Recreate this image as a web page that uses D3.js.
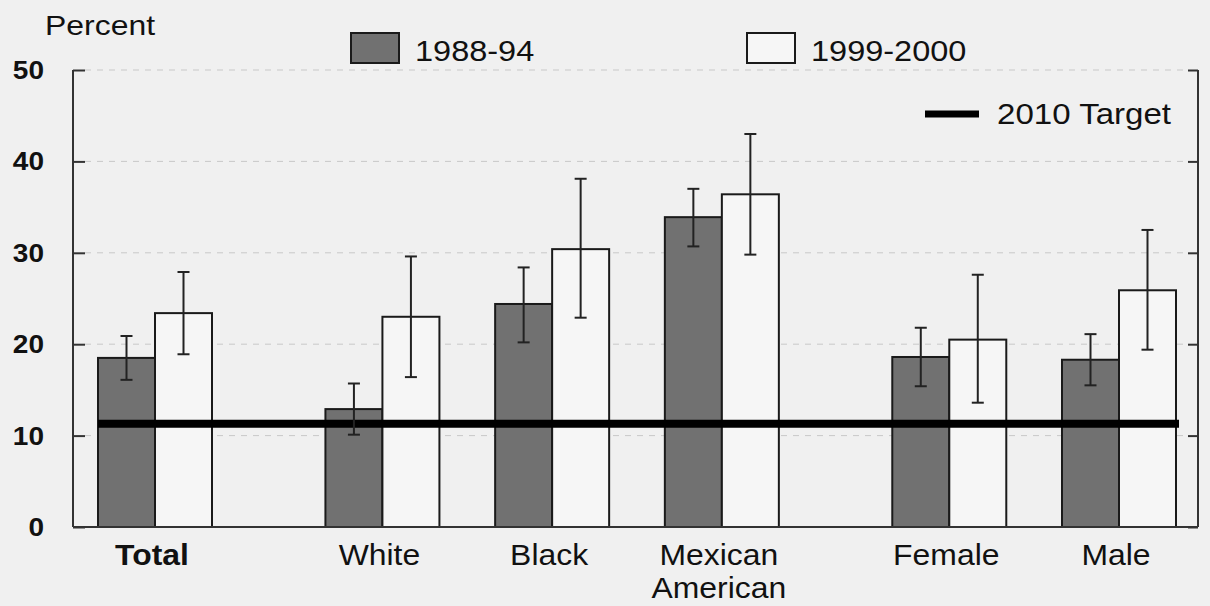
<!DOCTYPE html>
<html>
<head>
<meta charset="utf-8">
<script src="https://cdn.jsdelivr.net/npm/d3@7"></script>
<style>
html,body{margin:0;padding:0;background:#f0f0f0;}
svg{display:block;font-family:"Liberation Sans",Arial,sans-serif;}
</style>
</head>
<body>
<svg id="chart" width="1210" height="606"></svg>
<script>
const categories = ["Total","White","Black","Mexican American","Female","Male"];
const boldCategory = ["Total"];
const seriesNames = ["1988-94","1999-2000"];
const values8894 = [18.5, 12.9, 24.4, 33.9, 18.6, 18.3];
const upper8894  = [20.9, 15.7, 28.4, 37.0, 21.8, 21.1];
const lower8894  = [16.1, 10.1, 20.2, 30.7, 15.4, 15.5];
const values9900 = [23.4, 23.0, 30.4, 36.4, 20.5, 25.9];
const upper9900  = [27.9, 29.6, 38.1, 43.0, 27.6, 32.5];
const lower9900  = [18.9, 16.4, 22.9, 29.8, 13.6, 19.4];
const target2010 = 11.3;
const yTicks = [0,10,20,30,40,50];
const targetLabel = "2010 Target";
const yTitle = "Percent";

(function(){
const svg = d3.select("#chart");
const mLeft = 73, mRight = 1198, mTop = 70, mBottom = 527;
const STRETCH = 1.13;
function stretch(sel, k){
  sel.each(function(){
    const len = this.getComputedTextLength();
    d3.select(this).attr("textLength", len*(k||STRETCH)).attr("lengthAdjust","spacingAndGlyphs");
  });
  return sel;
}

// category slot positions with extra spacing after Total and after Mexican American
const gapAfter = ["Total","Mexican American"];
let slot = 0; const slots = [];
categories.forEach((c,i)=>{ slots.push(slot); slot += 1 + (gapAfter.includes(c) ? 0.34 : 0); });
const x = d3.scaleLinear().domain([0, slots[slots.length-1]]).range([155, 1119]);
const barW = 57;
const y = d3.scaleLinear().domain([0,50]).range([mBottom, mTop]);

// gridlines
svg.append("g").selectAll("line").data(yTicks.filter(t=>t>0)).join("line")
  .attr("x1", mLeft+12).attr("x2", mRight-10)
  .attr("y1", d=>y(d)).attr("y2", d=>y(d))
  .attr("stroke","#c8c8c8").attr("stroke-width",1).attr("stroke-dasharray","6,6");

const series = [
  {name: seriesNames[0], vals: values8894, up: upper8894, lo: lower8894, fill:"#717171", off:-1},
  {name: seriesNames[1], vals: values9900, up: upper9900, lo: lower9900, fill:"#f6f6f6", off:0}
];

series.forEach(s=>{
  const g = svg.append("g");
  g.selectAll("rect").data(s.vals).join("rect")
    .attr("x",(d,i)=>x(slots[i]) + s.off*barW)
    .attr("y",d=>y(d))
    .attr("width",barW)
    .attr("height",d=>y(0)-y(d))
    .attr("fill",s.fill)
    .attr("stroke","#1a1a1a").attr("stroke-width",2);
});

// target line
svg.append("line")
  .attr("x1", x(slots[0]) - barW).attr("x2", x(slots[slots.length-1]) + barW + 3)
  .attr("y1", y(target2010)).attr("y2", y(target2010))
  .attr("stroke","#000").attr("stroke-width",8);

// error bars
series.forEach(s=>{
  const g = svg.append("g");
  s.vals.forEach((v,i)=>{
    const cx = x(slots[i]) + s.off*barW + barW/2;
    g.append("line").attr("x1",cx).attr("x2",cx).attr("y1",y(s.up[i])).attr("y2",y(s.lo[i]))
      .attr("stroke","#222").attr("stroke-width",2);
    [s.up[i], s.lo[i]].forEach(e=>{
      g.append("line").attr("x1",cx-6).attr("x2",cx+6).attr("y1",y(e)).attr("y2",y(e))
        .attr("stroke","#222").attr("stroke-width",2);
    });
  });
});

// axes frame
const frame = svg.append("g").attr("stroke","#333").attr("stroke-width",2);
frame.append("line").attr("x1",mLeft).attr("x2",mLeft).attr("y1",mTop).attr("y2",mBottom);
frame.append("line").attr("x1",mRight).attr("x2",mRight).attr("y1",mTop).attr("y2",mBottom);
frame.append("line").attr("x1",mLeft).attr("x2",mRight).attr("y1",mBottom).attr("y2",mBottom);

// axis ticks
const yAxis = d3.axisRight(y).tickValues(yTicks).tickSize(12).tickFormat("");
svg.append("g").attr("transform",`translate(${mLeft},0)`).call(yAxis)
  .call(g=>g.select(".domain").remove())
  .call(g=>g.selectAll(".tick line").attr("stroke","#333").attr("stroke-width",2));
const yAxisR = d3.axisLeft(y).tickValues(yTicks).tickSize(10).tickFormat("");
svg.append("g").attr("transform",`translate(${mRight},0)`).call(yAxisR)
  .call(g=>g.select(".domain").remove())
  .call(g=>g.selectAll(".tick line").attr("stroke","#333").attr("stroke-width",2));

svg.append("g").selectAll("text").data(yTicks).join("text")
  .attr("x",44).attr("y",d=>y(d)).attr("dy","0.36em")
  .attr("text-anchor","end").attr("font-size",25).attr("font-weight","bold").attr("fill","#111")
  .text(d=>d).call(stretch, 1.12);

svg.append("text").attr("x",45).attr("y",35).attr("font-size",28).attr("fill","#111").text(yTitle).call(stretch, 1.14);

// category labels
categories.forEach((c,i)=>{
  const words = c === "Mexican American" ? ["Mexican","American"] : [c];
  words.forEach((w,k)=>{
    svg.append("text").attr("x",x(slots[i]) - 3).attr("y",565 + k*33)
      .attr("text-anchor","middle").attr("font-size",29).attr("fill","#111")
      .attr("font-weight", boldCategory.includes(c) ? "bold" : "normal")
      .text(w).call(stretch, 1.1);
  });
});

// legend
const leg = [{x:351, fill:"#717171", label:seriesNames[0]},{x:747, fill:"#f6f6f6", label:seriesNames[1]}];
leg.forEach(l=>{
  svg.append("rect").attr("x",l.x).attr("y",33).attr("width",48).attr("height",30)
    .attr("fill",l.fill).attr("stroke","#1a1a1a").attr("stroke-width",2);
  svg.append("text").attr("x",l.x+64).attr("y",61).attr("font-size",29).attr("fill","#111").text(l.label).call(stretch, 1.12);
});
svg.append("line").attr("x1",925).attr("x2",979).attr("y1",114).attr("y2",114)
  .attr("stroke","#000").attr("stroke-width",7);
svg.append("text").attr("x",997).attr("y",124).attr("font-size",29).attr("fill","#111").text(targetLabel).call(stretch, 1.14);
})();
</script>
</body>
</html>
